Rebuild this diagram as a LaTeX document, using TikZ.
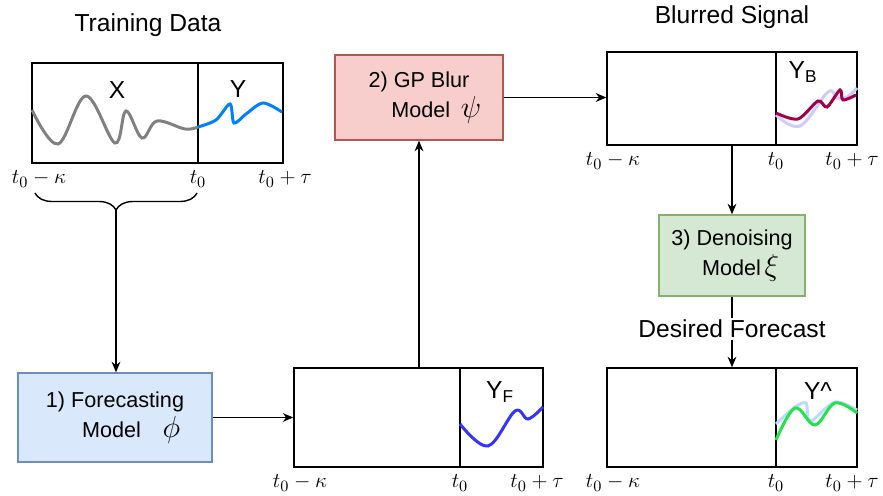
\documentclass[tikz,border=0pt]{standalone}
\usepackage{fontspec}
\setmainfont{Liberation Sans}
\usetikzlibrary{positioning, arrows.meta, decorations.pathreplacing}

\definecolor{fcfill}{HTML}{DAE8FC}
\definecolor{fcline}{HTML}{6C8EBF}
\definecolor{gpfill}{HTML}{F8CECC}
\definecolor{gpline}{HTML}{B85450}
\definecolor{dnfill}{HTML}{D5E8D4}
\definecolor{dnline}{HTML}{82B366}
\definecolor{histc}{HTML}{808080}
\definecolor{truec}{HTML}{007FFF}
\definecolor{fcastc}{HTML}{3333FF}
\definecolor{blurc}{HTML}{A20046}
\definecolor{ghostc}{HTML}{CCCCFF}
\definecolor{denc}{HTML}{22E34A}
\definecolor{lightc}{HTML}{B8DBFF}

\newcommand{\bigsym}[1]{{\fontsize{17}{17}\selectfont$#1$}}

\begin{document}
\begin{tikzpicture}[x=0.02cm, y=-0.02cm,
  >={Stealth[length=6pt, width=5pt]},
  plotbox/.style={draw, line width=0.8pt, inner sep=0pt},
  modelbox/.style={draw, line width=0.8pt, align=center, font=\fontsize{12.3}{17}\selectfont},
  title/.style={font=\fontsize{14}{17}\selectfont},
  tick/.style={font=\fontsize{13}{15}\selectfont},
  sig/.style={line width=1.7pt}]

\useasboundingbox (0,0) rectangle (883,496);

% plot boxes
\node[plotbox, minimum width=5.02cm, minimum height=2cm] (train) at (157.5,113) {};
\node[plotbox, minimum width=4.98cm, minimum height=1.98cm] (yf) at (418.5,417.5) {};
\node[plotbox, minimum width=5cm, minimum height=1.86cm] (yb) at (732,98.5) {};
\node[plotbox, minimum width=5cm, minimum height=1.98cm] (yhat) at (732,417.5) {};

\draw[line width=0.8pt] (198,63) -- (198,163);
\draw[line width=0.8pt] (460,368) -- (460,467);
\draw[line width=0.8pt] (776,52) -- (776,145);
\draw[line width=0.8pt] (776,368) -- (776,467);

% models
\node[modelbox, fill=fcfill, draw=fcline, minimum width=3.88cm, minimum height=1.78cm] (fc) at (115,417.5)
  {1) Forecasting\\\hspace{1.5em}Model\quad\bigsym{\phi}};
\node[modelbox, fill=gpfill, draw=gpline, minimum width=3.36cm, minimum height=1.7cm] (gp) at (419,97.5)
  {2) GP Blur\\\hspace{1.6em}Model\enspace\bigsym{\psi}};
\node[modelbox, fill=dnfill, draw=dnline, minimum width=2.92cm, minimum height=1.62cm] (dn) at (732,255.5)
  {3) Denoising\\\hspace{0.8em}Model\,\bigsym{\xi}};

% titles
\node[title] (trtitle) at (148,25) {Training Data};
\node[title] (bltitle) at (732,17) {Blurred Signal};
\node[title, fill=white, inner sep=1pt] (df) at (732,329) {Desired Forecast};

% series names
\node[title] (xname) at (117,90) {X};
\node[title] (yname) at (238,89) {Y};
\node[title] (yfname) at (500,392) {Y\textsubscript{F}};
\node[title] (ybname) at (803,72) {Y\textsubscript{B}};
\node[title] (yhname) at (818,391) {Y\textasciicircum};

% time ticks
\node[tick] (a1) at (39,179) {$t_0-\kappa$};
\node[tick] (a2) at (198,179) {$t_0$};
\node[tick] (a3) at (285,179) {$t_0+\tau$};
\node[tick] (b1) at (300,483) {$t_0-\kappa$};
\node[tick] (b2) at (460,483) {$t_0$};
\node[tick] (b3) at (537,483) {$t_0+\tau$};
\node[tick] (c1) at (613,161) {$t_0-\kappa$};
\node[tick] (c2) at (776,161) {$t_0$};
\node[tick] (c3) at (852,161) {$t_0+\tau$};
\node[tick] (d1) at (613,483) {$t_0-\kappa$};
\node[tick] (d2) at (776,483) {$t_0$};
\node[tick] (d3) at (852,483) {$t_0+\tau$};

% signals
\draw[sig, histc] plot[smooth, tension=0.6] coordinates {(32,110) (58,144) (86,96) (115,143) (126,111) (142,138) (157,121) (185,129) (198,127)};
\draw[sig, truec] plot[smooth, tension=0.5] coordinates {(198,127) (216,120) (230,104) (234,123) (246,114) (263,103) (282,112)};
\draw[sig, fcastc] plot[smooth, tension=0.6] coordinates {(460,424) (488,446) (515,411) (528,419) (543,407)};
\draw[sig, ghostc] plot[smooth, tension=0.6] coordinates {(776,115) (800,126) (828,92) (837,98) (847,97) (857,88)};
\draw[sig, blurc] plot[smooth, tension=0.5] coordinates {(776,113) (798,119) (818,101) (827,107) (840,90) (843,100) (856,95)};
\draw[sig, lightc] plot[smooth, tension=0.5] coordinates {(776,424) (795,407) (806,403) (808,418) (813,420) (835,402) (857,410)};
\draw[sig, denc] plot[smooth, tension=0.6] coordinates {(776,440) (795,408) (815,425) (835,403) (857,413)};

% brace and connectors
\draw[line width=0.8pt, decorate, decoration={brace, mirror, amplitude=0.34cm}] (35,193) -- (197,193);
\coordinate (brtip) at (116,210);
\draw[->, line width=0.8pt] (brtip) -- (brtip |- fc.north);
\draw[->, line width=0.8pt] (fc.east) -- (yf.west);
\draw[->, line width=0.8pt] (gp.south |- yf.north) -- (gp.south);
\draw[->, line width=0.8pt] (gp.east) -- (gp.east -| yb.west);
\draw[->, line width=0.8pt] (yb.south) -- (dn.north);
\draw[line width=0.8pt] (dn.south) -- (df.north);
\draw[->, line width=0.8pt] (df.south) -- (yhat.north);
\end{tikzpicture}
\end{document}
